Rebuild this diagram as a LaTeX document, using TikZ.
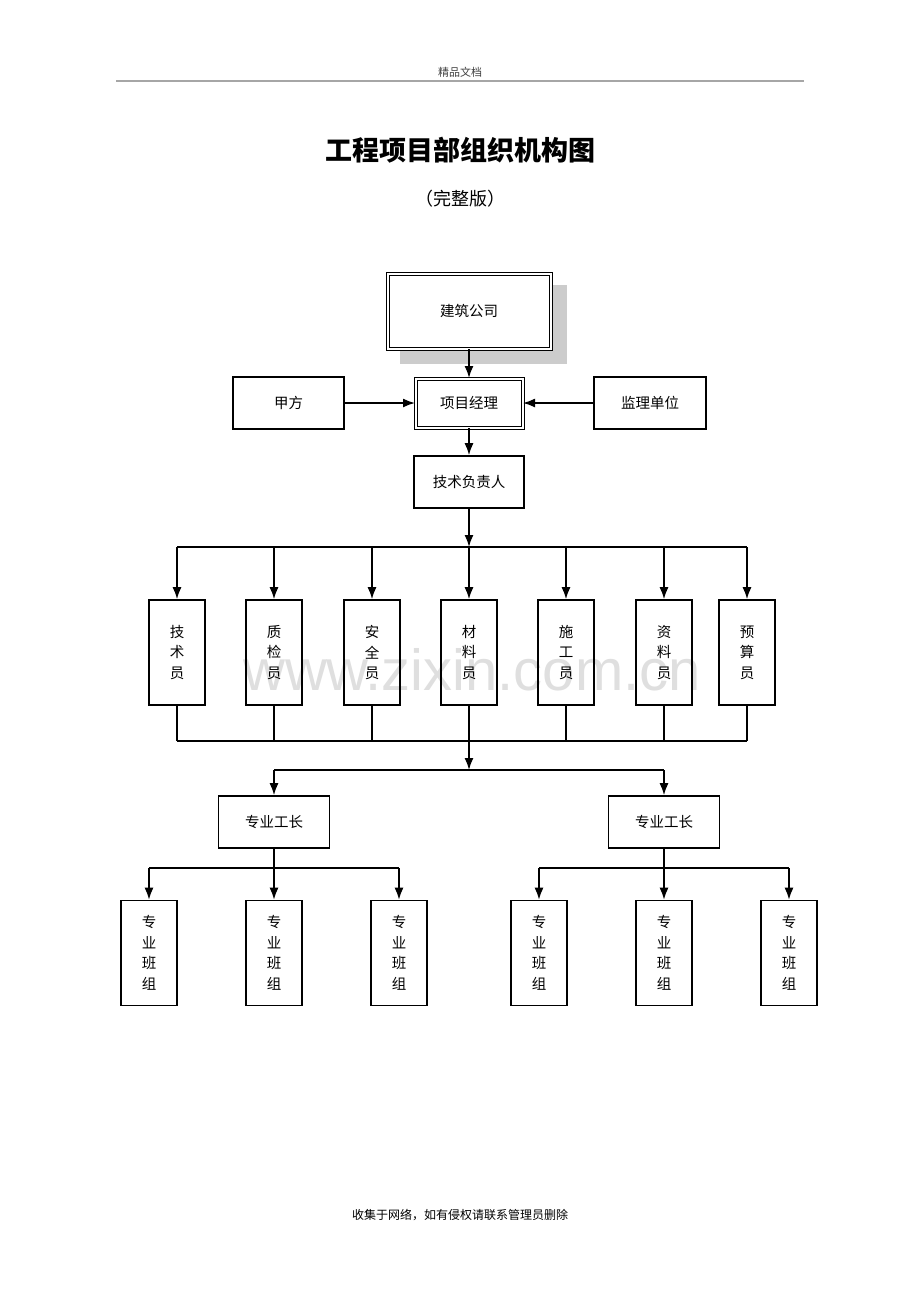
\documentclass[tikz,border=0pt]{standalone}
\usepackage{fontspec}
\setmainfont{Noto Sans CJK SC}
\newfontfamily\wmfont{Liberation Sans}
\usepackage{tikz}
\usetikzlibrary{arrows.meta}
\tikzset{>={Latex[length=12pt,width=9pt]}}
\definecolor{shadowgray}{HTML}{CCCCCC}
\definecolor{wmgray}{HTML}{DFDFDF}
\tikzset{
  box/.style={draw,line width=1.6pt,inner sep=0pt,
    font=\fontsize{14.5}{20.5}\selectfont,align=center},
  dbox/.style={box,fill=white,line width=1pt,double=white,double distance=2pt},
  link/.style={line width=1.6pt},
}

\begin{document}
\begin{tikzpicture}[x=1pt,y=-1pt]
\useasboundingbox (0,0) rectangle (920,1302);
% header and titles
\node[font=\fontsize{11}{11}\selectfont,text=black!75] (hd) at (460,72) {精品文档};
\draw[gray!70,line width=1.2pt] (116,81) -- (804,81);
\node[font=\fontsize{27}{27}\selectfont\bfseries] (tt) at (460,150) {工程项目部组织机构图};
\node[font=\fontsize{18}{18}\selectfont] (st) at (460,199) {（完整版）};
\node[font=\fontsize{12}{12}\selectfont] (ft) at (460,1215) {收集于网络，如有侵权请联系管理员删除};
% watermark
\node[text=wmgray,font=\fontsize{58}{58}\wmfont] (wm) at (472,670) {www.zixin.com.cn};

% top levels
\fill[shadowgray] (400,285) rectangle (567,364);
\node[dbox,minimum width=163,minimum height=75] (gs) at (469,311) {建筑公司};
\node[dbox,minimum width=107,minimum height=49] (jl) at (469,403) {项目经理};
\node[box,minimum width=111,minimum height=52] (jf) at (288.5,403) {甲方};
\node[box,minimum width=112,minimum height=52] (jd) at (650,403) {监理单位};
\node[box,minimum width=110,minimum height=52] (fz) at (469,482) {技术负责人};
\draw[link,->] (gs) -- (jl);
\draw[link,->] (jf) -- (jl);
\draw[link,->] (jd) -- (jl);
\draw[link,->] (jl) -- (fz);

% staff row
\coordinate (bus1) at (469,547);
\coordinate (bus2) at (469,741);
\coordinate (bus3) at (469,770);
\foreach \x/\t [count=\i] in {177/技\\术\\员,274/质\\检\\员,372/安\\全\\员,
    469/材\\料\\员,566/施\\工\\员,664/资\\料\\员,747/预\\算\\员}{
  \node[box,minimum width=56,minimum height=105] (s\i) at (\x,652.5) {\t};
  \draw[link,->] (s\i.north |- bus1) -- (s\i.north);
  \draw[link] (s\i.south) -- (s\i.south |- bus2);
}
\draw[link,->] (fz) -- (bus1);
\draw[link] (s1.north |- bus1) -- (s7.north |- bus1);
\draw[link] (s1.south |- bus2) -- (s7.south |- bus2);
\draw[link,->] (bus2) -- (bus3);

% foremen
\node[box,minimum width=111,minimum height=52] (gzl) at (274,822) {专业工长};
\node[box,minimum width=111,minimum height=52] (gzr) at (664,822) {专业工长};
\draw[link] (gzl.north |- bus3) -- (gzr.north |- bus3);
\draw[link,->] (gzl.north |- bus3) -- (gzl);
\draw[link,->] (gzr.north |- bus3) -- (gzr);

% teams
\coordinate (busl) at (274,868);
\coordinate (busr) at (664,868);
\foreach \x [count=\i] in {149,274,399,539,664,789}{
  \node[box,minimum width=56,minimum height=105] (b\i) at (\x,953) {专\\业\\班\\组};
}
\draw[link] (b1.north |- busl) -- (b3.north |- busl);
\draw[link,->] (b1.north |- busl) -- (b1);
\draw[link,->] (gzl) -- (b2);
\draw[link,->] (b3.north |- busl) -- (b3);
\draw[link] (b4.north |- busr) -- (b6.north |- busr);
\draw[link,->] (b4.north |- busr) -- (b4);
\draw[link,->] (gzr) -- (b5);
\draw[link,->] (b6.north |- busr) -- (b6);
\end{tikzpicture}
\end{document}
